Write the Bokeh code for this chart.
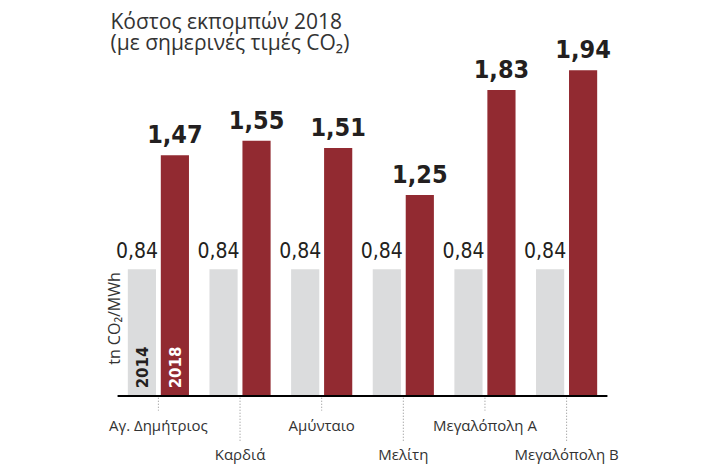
import math
from bokeh.plotting import figure
from bokeh.models import ColumnDataSource, FactorRange, Range1d
from bokeh.transform import dodge
from bokeh.core.properties import value
from bokeh.embed import file_html
from bokeh.resources import INLINE

# ---- data ----
categories = ["Αγ. Δημήτριος", "Καρδιά", "Αμύνταιο", "Μελίτη", "Μεγαλόπολη Α", "Μεγαλόπολη Β"]
series_names = ["2014", "2018"]
values_2014 = [0.84, 0.84, 0.84, 0.84, 0.84, 0.84]
values_2018 = [1.47, 1.55, 1.51, 1.25, 1.83, 1.94]
title_lines = ["Κόστος εκπομπών 2018", "(με σημερινές τιμές CO₂)"]
unit_label = "tn CO₂/MWh"
axis_start = 0.14  # value where the baseline of the chart sits

# ---- layout ----
W, H = 728, 466
Y0, Y1 = -0.25, 2.325
PAD = 0.478  # range padding (percent)
n = len(categories)
pad_units = PAD * n / 2.0
frame_w = W - 4


def ypx(px):
    return Y1 - px * (Y1 - Y0) / H


def xpx(px):
    return -pad_units + px * (n + 2 * pad_units) / frame_w


def fmt(v):
    return f"{v:.2f}".replace(".", ",")


RED = "#922a31"
GREY = "#dbdcdd"
DARK = "#231f20"
NARROW = "DejaVu Sans Condensed"
SANS = "Open Sans"

src = ColumnDataSource(dict(
    cat=categories,
    v14=values_2014,
    v18=values_2018,
    l14=[fmt(v) for v in values_2014],
    l18=[fmt(v) for v in values_2018],
    base=[axis_start] * n,
    y14=[v + 0.105 for v in values_2014],
    y18=[v + 0.115 for v in values_2018],
))

p = figure(width=W, height=H,
           x_range=FactorRange(*categories, range_padding=PAD, range_padding_units="percent"),
           y_range=Range1d(Y0, Y1),
           output_backend="svg", toolbar_location=None,
           x_axis_location=None, y_axis_location=None)
p.min_border = 0
p.min_border_right = 4
p.outline_line_color = None
p.grid.visible = False
p.background_fill_color = "white"
p.border_fill_color = "white"

OFF = 0.202
BW = 0.345
p.vbar(x=dodge("cat", -OFF, range=p.x_range), top="v14", bottom="base", width=BW,
       color=GREY, line_color=None, source=src)
p.vbar(x=dodge("cat", OFF, range=p.x_range), top="v18", bottom="base", width=BW,
       color=RED, line_color=None, source=src)

# value labels
p.text(x=dodge("cat", -0.263, range=p.x_range), y="y14", text="l14", source=src,
       text_align="center", text_baseline="alphabetic",
       text_font=value(NARROW), text_font_size="21px", text_color=DARK)
p.text(x=dodge("cat", OFF, range=p.x_range), y="y18", text="l18", source=src,
       text_align="center", text_baseline="alphabetic",
       text_font=value(NARROW), text_font_size="25px", text_font_style="bold",
       text_color=DARK)

# series labels inside first group
p.text(x=dodge("cat", -OFF, range=p.x_range), y="y", text="name",
       source=ColumnDataSource(dict(cat=[categories[0]], name=[series_names[0]], y=[ypx(367)])),
       angle=math.pi / 2, text_align="center", text_baseline="middle",
       text_font=value("DejaVu Sans"), text_font_style="bold", text_font_size="15px",
       text_color=DARK)
p.text(x=dodge("cat", OFF, range=p.x_range), y="y", text="name",
       source=ColumnDataSource(dict(cat=[categories[0]], name=[series_names[1]], y=[ypx(367)])),
       angle=math.pi / 2, text_align="center", text_baseline="middle",
       text_font=value("DejaVu Sans"), text_font_style="bold", text_font_size="15px",
       text_color="white")

# baseline axis
p.segment(x0=[0], x1=[n], y0=[axis_start], y1=[axis_start], line_color="black", line_width=2)

# ticks and category labels, alternating rows
row = [i % 2 for i in range(n)]
tick_end = [ypx(410) if r == 0 else ypx(442) for r in row]
lab_y = [ypx(424) if r == 0 else ypx(453) for r in row]
p.segment(x0=categories, x1=categories, y0=[axis_start - 0.01] * n, y1=tick_end,
          line_color="#8a8a8a", line_width=1, line_dash="1 2")
p.text(x=categories, y=lab_y, text=categories, text_align="center",
       text_baseline="alphabetic", text_font=value(SANS), text_font_size="15px",
       text_color="#333333")

# unit label
p.text(x=[xpx(113)], y=[ypx(318)], text=[unit_label], angle=math.pi / 2,
       text_align="center", text_baseline="middle", text_font=value(SANS),
       text_font_size="16px", text_color="#333333")

# title
p.text(x=[xpx(110), xpx(110)], y=[ypx(20), ypx(41)], text=title_lines,
       text_align="left", text_baseline="alphabetic", text_font=value(SANS),
       text_font_size="21px", text_color="#333333")

open("out.html", "w").write(file_html(p, INLINE))
